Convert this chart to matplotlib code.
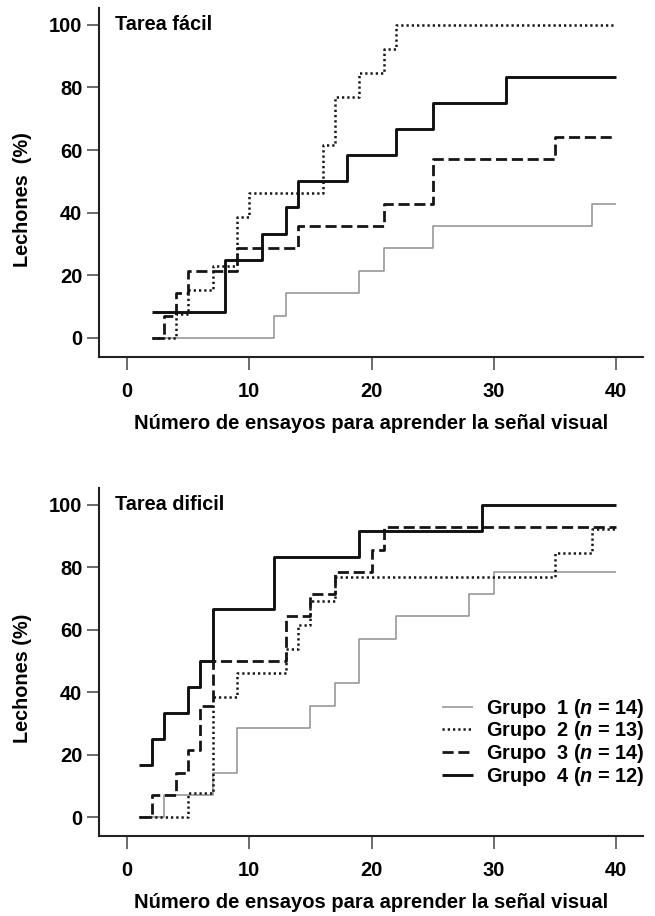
import matplotlib
matplotlib.use("Agg")
from matplotlib import pyplot as plt

plt.rcParams['font.family'] = ['Liberation Sans', 'DejaVu Sans']
plt.rcParams['font.weight'] = 'bold'
plt.rcParams['mathtext.fontset'] = 'custom'
plt.rcParams['mathtext.it'] = 'Liberation Sans:italic:bold'
plt.rcParams['mathtext.rm'] = 'Liberation Sans:bold'

# datos: ensayo en que cambia el escalon y % de lechones que aprendio
# Tarea facil
facil_x1 = [2, 12, 13, 19, 21, 25, 38, 40]
facil_y1 = [0, 7.1, 14.3, 21.4, 28.6, 35.7, 42.9, 42.9]
facil_x2 = [2, 4, 5, 7, 9, 10, 16, 17, 19, 21, 22, 40]
facil_y2 = [0, 7.7, 15.4, 23.1, 38.5, 46.2, 61.5, 76.9, 84.6, 92.3, 100, 100]
facil_x3 = [2, 3, 4, 5, 9, 14, 21, 25, 35, 40]
facil_y3 = [0, 7.1, 14.3, 21.4, 28.6, 35.7, 42.9, 57.1, 64.3, 64.3]
facil_x4 = [2, 8, 11, 13, 14, 18, 22, 25, 31, 40]
facil_y4 = [8.3, 25, 33.3, 41.7, 50, 58.3, 66.7, 75, 83.3, 83.3]

# Tarea dificil
dificil_x1 = [1, 3, 7, 9, 15, 17, 19, 22, 28, 30, 40]
dificil_y1 = [0, 7.1, 14.3, 28.6, 35.7, 42.9, 57.1, 64.3, 71.4, 78.6, 78.6]
dificil_x2 = [1, 5, 7, 9, 13, 14, 15, 17, 35, 38, 40]
dificil_y2 = [0, 7.7, 38.5, 46.2, 53.8, 61.5, 69.2, 76.9, 84.6, 92.3, 92.3]
dificil_x3 = [1, 2, 4, 5, 6, 7, 13, 15, 17, 20, 21, 40]
dificil_y3 = [0, 7.1, 14.3, 21.4, 35.7, 50, 64.3, 71.4, 78.6, 85.7, 92.9, 92.9]
dificil_x4 = [1, 2, 3, 5, 6, 7, 12, 19, 29, 40]
dificil_y4 = [16.7, 25, 33.3, 41.7, 50, 66.7, 83.3, 91.7, 100, 100]

grupos = ['1', '2', '3', '4']
n_grupo = [14, 13, 14, 12]
titulos = ['Tarea fácil', 'Tarea dificil']
xticks = [0, 10, 20, 30, 40]
yticks = [0, 20, 40, 60, 80, 100]

# estilo de cada grupo
estilos = [
    dict(color='#8f8f8f', lw=1.1, ls='-'),
    dict(color='#151515', lw=1.8, ls=(0, (0.9, 1.2))),
    dict(color='#151515', lw=2.0, ls=(0, (4.0, 1.7))),
    dict(color='#111111', lw=2.1, ls='-'),
]

fig = plt.figure(figsize=(6.55, 9.16), dpi=100)
ax1 = fig.add_axes([0.1511, 0.6106, 0.8305, 0.3807])
ax2 = fig.add_axes([0.1511, 0.0873, 0.8305, 0.3799])

paneles = [
    (ax1, [(facil_x1, facil_y1), (facil_x2, facil_y2), (facil_x3, facil_y3), (facil_x4, facil_y4)]),
    (ax2, [(dificil_x1, dificil_y1), (dificil_x2, dificil_y2), (dificil_x3, dificil_y3), (dificil_x4, dificil_y4)]),
]

for k, (ax, series) in enumerate(paneles):
    for i, (xs, ys) in enumerate(series):
        ax.step(xs, ys, where='post', solid_capstyle='butt', dash_capstyle='butt',
                label=r'Grupo  %s ($n$ = %d)' % (grupos[i], n_grupo[i]), **estilos[i])

    ax.set_xlim(-2.3, 42.2)
    ax.set_ylim(-6, 105.4)
    ax.set_xticks(xticks)
    ax.set_yticks(yticks)
    ax.spines['top'].set_visible(False)
    ax.spines['right'].set_visible(False)
    ax.spines['left'].set_linewidth(1.5)
    ax.spines['bottom'].set_linewidth(1.5)
    ax.spines['left'].set_color('#222222')
    ax.spines['bottom'].set_color('#222222')
    ax.tick_params(axis='both', direction='out', length=9, width=1.1, color='#444444',
                   labelsize=14.5)
    ax.tick_params(axis='x', pad=9)
    ax.tick_params(axis='y', pad=3)
    for lab in ax.get_xticklabels() + ax.get_yticklabels():
        lab.set_fontweight('bold')

    ax.text(0.029, 0.953, titulos[k], transform=ax.transAxes, fontsize=14.3,
            fontweight='bold', ha='left', va='center')

# etiquetas de ejes
fig.text(0.0336, 0.782, 'Lechones  (%)', rotation=90, ha='center', va='center',
         fontsize=14.3, fontweight='bold')
fig.text(0.0336, 0.26, 'Lechones (%)', rotation=90, ha='center', va='center',
         fontsize=14.3, fontweight='bold')
fig.text(0.566, 0.538, 'Número de ensayos para aprender la señal visual',
         ha='center', va='center', fontsize=14.5, fontweight='bold')
fig.text(0.566, 0.0145, 'Número de ensayos para aprender la señal visual',
         ha='center', va='center', fontsize=14.5, fontweight='bold')

ax2.legend(loc='upper left', bbox_to_anchor=(0.63, 0.40), frameon=False,
           fontsize=14.3, handlelength=1.6, handletextpad=0.65, labelspacing=-0.02,
           borderpad=0, borderaxespad=0)

fig.savefig('out.png', dpi=100)
